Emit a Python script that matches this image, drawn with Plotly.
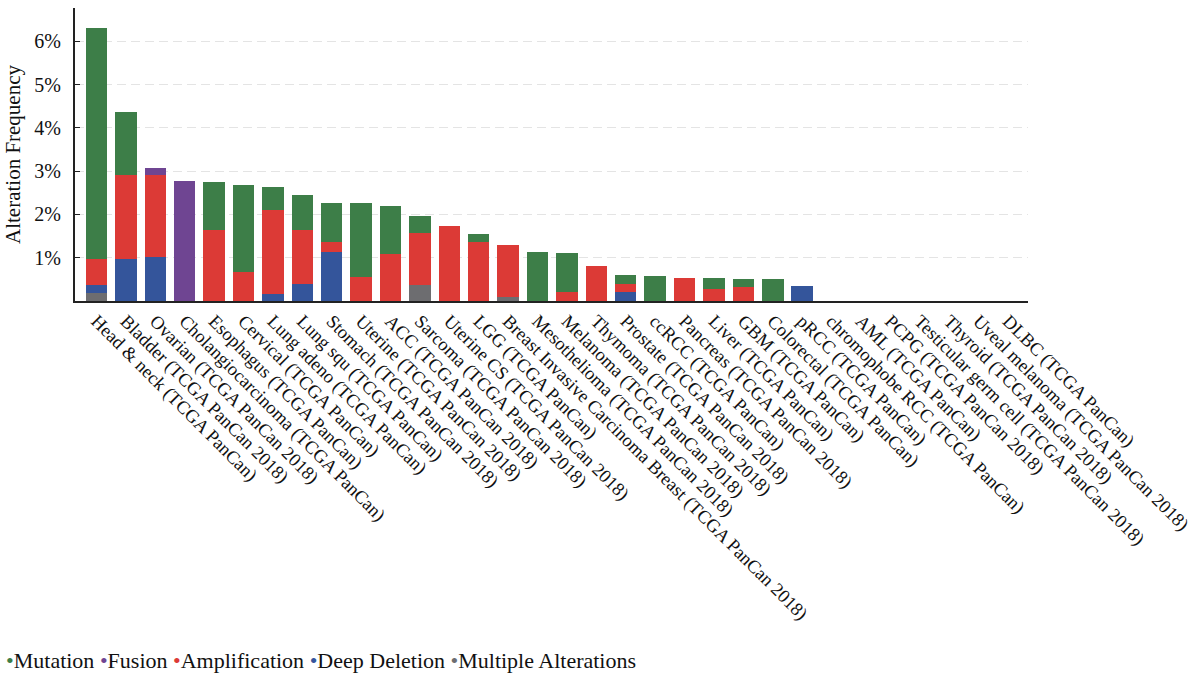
import plotly.graph_objects as go

# Cancer study categories along the x axis
categories = [
    "Head & neck (TCGA PanCan)",
    "Bladder (TCGA PanCan 2018)",
    "Ovarian (TCGA PanCan 2018)",
    "Cholangiocarcinoma (TCGA PanCan)",
    "Esophagus (TCGA PanCan)",
    "Cervical (TCGA PanCan)",
    "Lung adeno (TCGA PanCan)",
    "Lung squ (TCGA PanCan)",
    "Stomach (TCGA PanCan 2018)",
    "Uterine (TCGA PanCan 2018)",
    "ACC (TCGA PanCan 2018)",
    "Sarcoma (TCGA PanCan 2018)",
    "Uterine CS (TCGA PanCan 2018)",
    "LGG (TCGA PanCan)",
    "Breast Invasive Carcinoma Breast (TCGA PanCan 2018)",
    "Mesothelioma (TCGA PanCan 2018)",
    "Melanoma (TCGA PanCan 2018)",
    "Thymoma (TCGA PanCan 2018)",
    "Prostate (TCGA PanCan 2018)",
    "ccRCC (TCGA PanCan)",
    "Pancreas (TCGA PanCan 2018)",
    "Liver (TCGA PanCan)",
    "GBM (TCGA PanCan)",
    "Colorectal (TCGA PanCan)",
    "pRCC (TCGA PanCan)",
    "chromophobe RCC (TCGA PanCan)",
    "AML (TCGA PanCan)",
    "PCPG (TCGA PanCan 2018)",
    "Testicular germ cell (TCGA PanCan 2018)",
    "Thyroid (TCGA PanCan 2018)",
    "Uveal melanoma (TCGA PanCan 2018)",
    "DLBC (TCGA PanCan)",
]

# Alteration frequency (%) per alteration type
mutation = [5.35, 1.46, 0, 0, 1.10, 2.02, 0.53, 0.83, 0.91, 1.71,
            1.10, 0.40, 0, 0.19, 0, 1.14, 0.91, 0, 0.20, 0.58,
            0, 0.27, 0.17, 0.50, 0, 0, 0, 0, 0, 0,
            0, 0]
fusion = [0, 0, 0.17, 2.77, 0, 0, 0, 0, 0, 0,
          0, 0, 0, 0, 0, 0, 0, 0, 0, 0,
          0, 0, 0, 0, 0, 0, 0, 0, 0, 0,
          0, 0]
amplification = [0.58, 1.94, 1.89, 0, 1.64, 0.67, 1.94, 1.23, 0.23, 0.56,
                 1.09, 1.18, 1.74, 1.36, 1.20, 0, 0.21, 0.80, 0.20, 0,
                 0.54, 0.27, 0.33, 0, 0, 0, 0, 0, 0, 0,
                 0, 0]
deep_deletion = [0.19, 0.97, 1.02, 0, 0, 0, 0.17, 0.40, 1.13, 0,
                 0, 0, 0, 0, 0, 0, 0, 0, 0.20, 0,
                 0, 0, 0, 0, 0.35, 0, 0, 0, 0, 0,
                 0, 0]
multiple_alterations = [0.19, 0, 0, 0, 0, 0, 0, 0, 0, 0,
                        0, 0.38, 0, 0, 0.09, 0, 0, 0, 0, 0,
                        0, 0, 0, 0, 0, 0, 0, 0, 0, 0,
                        0, 0]

y_tickvals = [1, 2, 3, 4, 5, 6]
y_ticktext = ["1%", "2%", "3%", "4%", "5%", "6%"]

legend_order = ["Mutation", "Fusion", "Amplification", "Deep Deletion", "Multiple Alterations"]

COLORS = {
    "Mutation": "#3d7e48",
    "Fusion": "#6f4592",
    "Amplification": "#dc3a36",
    "Deep Deletion": "#34559b",
    "Multiple Alterations": "#6d6d70",
}

FONT = "Liberation Serif, Times New Roman, serif"
TEXT = "#111111"

fig = go.Figure()

# stacked from the bottom up
stack = [
    ("Multiple Alterations", multiple_alterations),
    ("Deep Deletion", deep_deletion),
    ("Amplification", amplification),
    ("Fusion", fusion),
    ("Mutation", mutation),
]
for name, vals in stack:
    fig.add_trace(go.Bar(
        x=categories, y=vals, name=name,
        marker=dict(color=COLORS[name], line=dict(width=0)),
        width=0.73, showlegend=False,
    ))

fig.update_layout(
    width=1196, height=673,
    barmode="stack",
    plot_bgcolor="white", paper_bgcolor="white",
    margin=dict(l=75, r=168, t=8, b=372),
    font=dict(family=FONT, size=20, color=TEXT),
    showlegend=False,
)

# compact bullet key along the bottom edge
key_text = " ".join(
    f'<span style="color:{COLORS[name]}">•</span>{name}' for name in legend_order
)
fig.add_annotation(
    xref="paper", yref="paper",
    x=(4 - 75) / 953, y=(301 - 660) / 293,
    xanchor="left", yanchor="middle", showarrow=False,
    text=key_text,
    font=dict(family=FONT, size=22, color=TEXT),
)

fig.update_xaxes(
    type="category",
    range=[-0.73, 31.68],
    tickangle=45,
    tickfont=dict(family=FONT, size=18.5, color=TEXT),
    showline=True, linecolor="#222222", linewidth=2,
    ticks="", showgrid=False, automargin=False,
)

fig.update_yaxes(
    range=[0, 6.77],
    tickvals=y_tickvals, ticktext=y_ticktext,
    tickfont=dict(family=FONT, size=20, color=TEXT),
    ticks="inside", ticklen=5, tickcolor="#222222", tickwidth=1,
    ticklabelstandoff=8,
    showline=True, linecolor="#222222", linewidth=2,
    showgrid=True, gridcolor="#e4e4e4", gridwidth=1, griddash="9px,5px",
    zeroline=False,
    title=dict(text="Alteration Frequency", font=dict(family=FONT, size=21, color=TEXT), standoff=8),
    automargin=False,
)

fig.write_html("out.html")
